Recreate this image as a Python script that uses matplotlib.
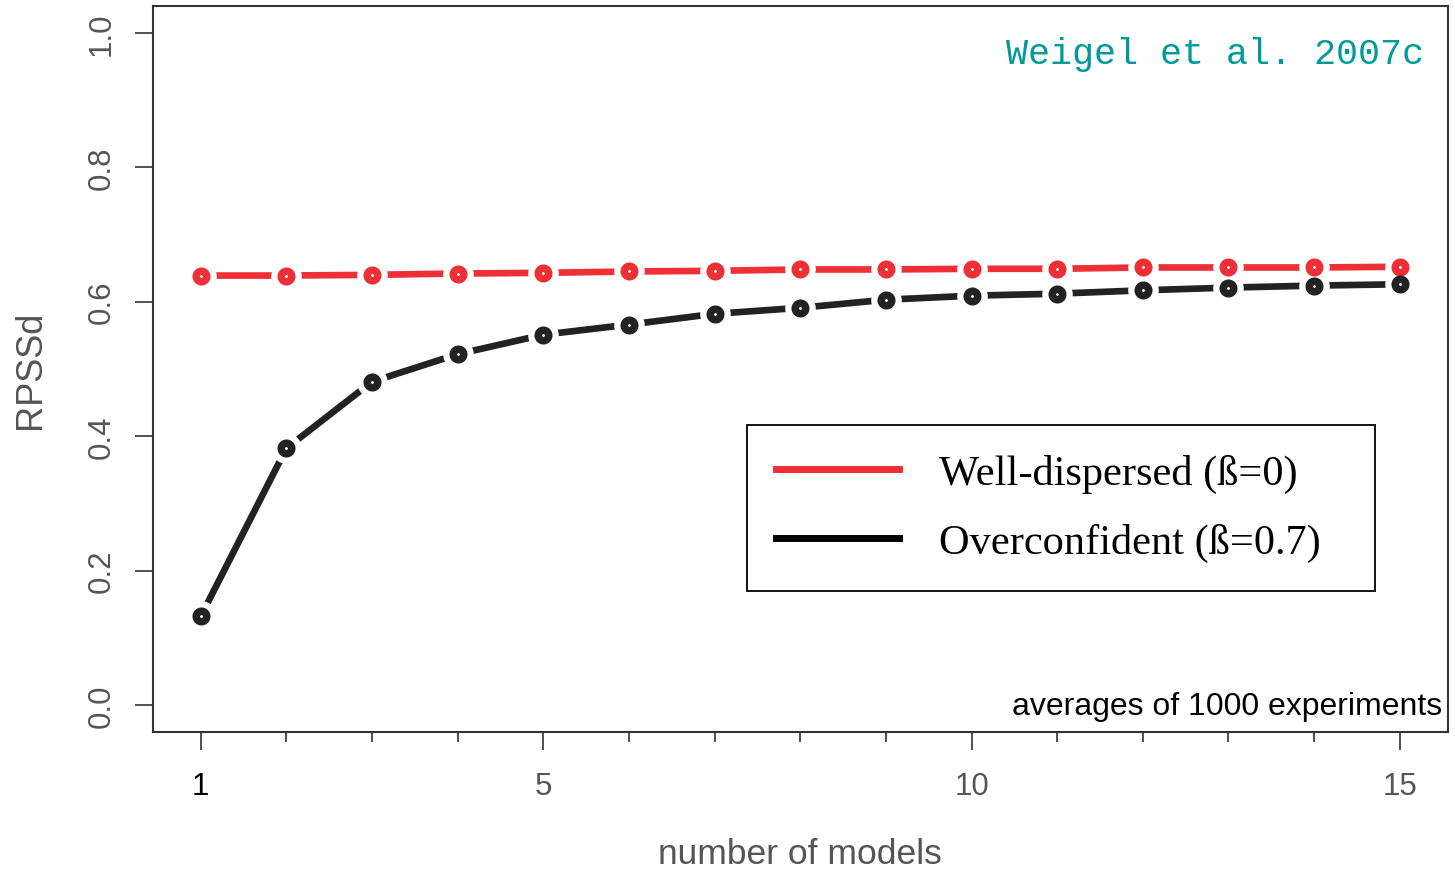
"""
RPSSd against the number of models in a multi-model ensemble.
"""
import matplotlib
matplotlib.use("Agg")
import matplotlib.pyplot as plt
from matplotlib.lines import Line2D

n_models = list(range(1, 16))
well_dispersed = [0.639, 0.639, 0.640, 0.642, 0.643, 0.645, 0.646, 0.648,
                  0.648, 0.649, 0.649, 0.651, 0.651, 0.651, 0.652]
overconfident = [0.132, 0.382, 0.481, 0.522, 0.551, 0.566, 0.582, 0.591,
                 0.603, 0.609, 0.612, 0.617, 0.621, 0.624, 0.626]
series_labels = ["Well-dispersed (\u00df=0)", "Overconfident (\u00df=0.7)"]
major_x = [1, 5, 10, 15]
y_ticks = [0.0, 0.2, 0.4, 0.6, 0.8, 1.0]

RED = "#ee3036"
BLACK = "#222222"
GRAY = "#555555"

plt.rcParams["font.family"] = ["Liberation Sans", "DejaVu Sans"]

fig = plt.figure(figsize=(14.55, 8.7), dpi=100)
ax = fig.add_axes([0.105, 0.1575, 0.89, 0.8345])


def draw_series(y, color):
    # R style type="b": line with gaps around each point
    ax.plot(n_models, y, '-', color=color, lw=4.8, solid_capstyle='butt',
            zorder=2)
    ax.scatter(n_models, y, s=22 ** 2, c='white', linewidths=0, zorder=3)
    ax.plot(n_models, y, 'o', ms=7.6, mfc='white', mec=color, mew=5.4,
            zorder=4)


draw_series(well_dispersed, RED)
draw_series(overconfident, BLACK)

ax.set_xlim(0.44, 15.56)
ax.set_ylim(-0.04, 1.04)

ax.set_xticks(major_x)
ax.set_xticks([x for x in n_models if x not in major_x], minor=True)
ax.set_yticks(y_ticks)
ax.set_yticklabels([f"{v:.1f}" for v in y_ticks], rotation=90, va='center')

ax.tick_params(axis='both', which='major', length=13, width=1.2,
               color="#333333", labelsize=22.5, labelcolor=GRAY)
ax.tick_params(axis='x', which='minor', length=7, width=1.2, color="#333333")
ax.tick_params(axis='x', which='major', pad=15)
ax.tick_params(axis='y', which='major', pad=13)
ax.get_xticklabels()[0].set_color("black")

for spine in ax.spines.values():
    spine.set_color("#333333")
    spine.set_linewidth(1.5)

ax.set_xlabel("number of models", fontsize=25.5, color=GRAY, labelpad=26)
ax.set_ylabel("RPSSd", fontsize=26, color=GRAY, labelpad=28)

handles = [Line2D([], [], color=RED, lw=5),
           Line2D([], [], color="black", lw=5)]
leg = ax.legend(handles, series_labels, loc='lower left',
                bbox_to_anchor=(0.459, 0.194, 0.485, 0.226), mode='expand',
                frameon=True, fancybox=False, framealpha=1,
                prop={'family': 'Liberation Serif', 'size': 30.5},
                handlelength=2.9, handletextpad=0.95, borderpad=0.68,
                labelspacing=0.72, borderaxespad=0)
leg.get_frame().set_edgecolor("black")
leg.get_frame().set_linewidth(1.3)

ax.text(0.982, 0.922, "Weigel et al. 2007c", transform=ax.transAxes,
        ha='right', va='baseline', family='Liberation Mono', fontsize=26.5,
        color="#009a9a")
ax.text(0.996, 0.025, "averages of 1000 experiments", transform=ax.transAxes,
        ha='right', va='baseline', fontsize=23, color="black")

fig.savefig("out.png")
